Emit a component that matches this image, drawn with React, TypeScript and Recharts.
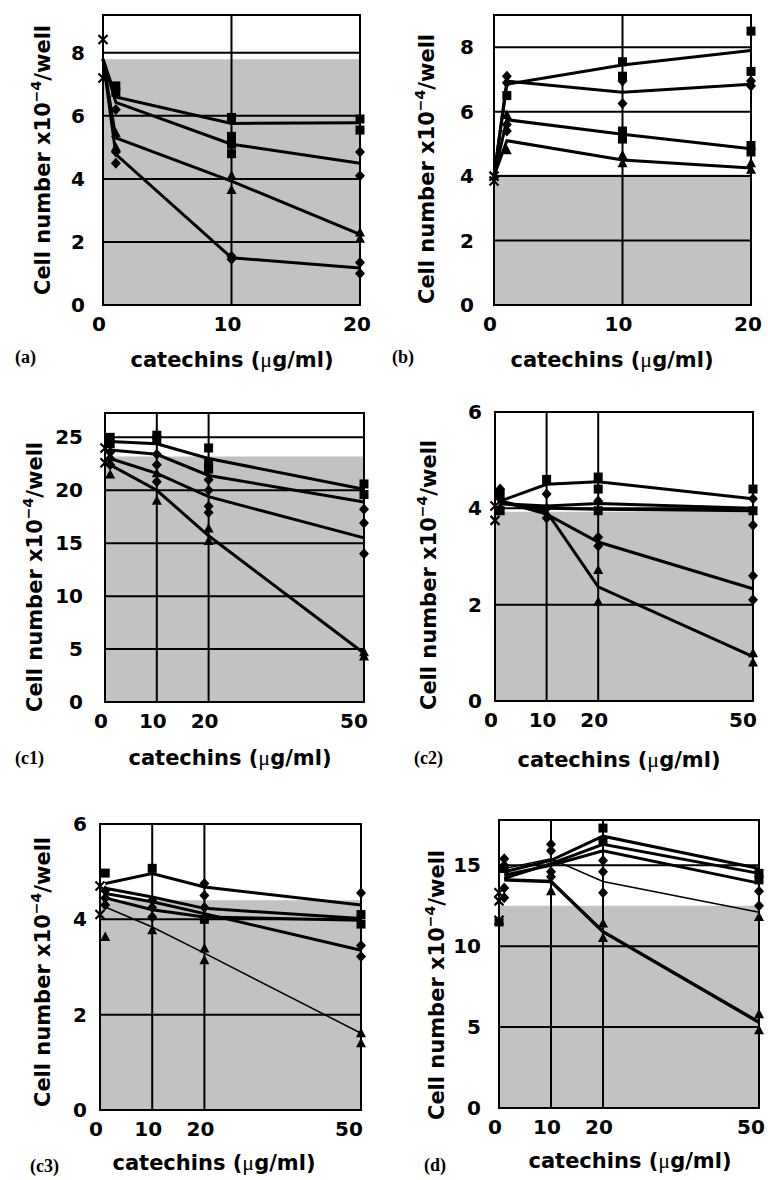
import {
  ComposedChart,
  Label,
  Line,
  ReferenceArea,
  ReferenceLine,
  Scatter,
  XAxis,
  YAxis,
} from "recharts";

const FONT = "'DejaVu Sans', sans-serif";
const SERIF = "'Liberation Serif', 'Times New Roman', serif";
const GRAY = "#c2c2c2";

// catechin doses (ug/ml)
const DOSE_AB = [0, 1, 10, 20];
const DOSE_C = [1, 10, 20, 50];

// (a) mean lines + replicates
const A_LINES = [
  [7.8, 6.6, 5.76, 5.78],
  [7.8, 6.43, 5.1, 4.5],
  [7.8, 5.3, 3.93, 2.24],
  [7.8, 4.78, 1.5, 1.17],
];
const A_X = [[0, 8.42], [0, 7.2]];
const A_SQ = [[1, 6.95], [1, 6.75], [10, 5.95], [10, 5.35], [10, 5.1], [10, 4.8], [20, 5.9], [20, 5.55]];
const A_DI = [[1, 6.2], [1, 4.85], [1, 4.5], [10, 1.55], [10, 1.45], [20, 4.85], [20, 4.1], [20, 1.35], [20, 1.0]];
const A_TR = [[1, 5.45], [1, 5.0], [10, 4.1], [10, 3.65], [20, 2.3], [20, 2.1]];

// (b)
const B_LINES = [
  [4.0, 6.85, 7.45, 7.9],
  [4.0, 6.95, 6.6, 6.85],
  [4.0, 5.75, 5.3, 4.85],
  [4.0, 5.1, 4.5, 4.25],
];
const B_X = [[0, 4.0], [0, 3.85]];
const B_SQ = [[1, 6.5], [10, 7.55], [10, 7.1], [10, 5.4], [10, 5.15], [20, 8.5], [20, 7.25], [20, 4.95], [20, 4.75]];
const B_DI = [[1, 7.1], [1, 6.9], [1, 5.6], [1, 5.4], [10, 6.95], [10, 6.25], [20, 6.95], [20, 6.8]];
const B_TR = [[1, 5.9], [1, 4.8], [10, 4.65], [10, 4.4], [20, 4.4], [20, 4.2]];

// (c1)
const C1_LINES = [
  [24.6, 24.4, 23.0, 20.1],
  [23.8, 23.4, 21.4, 18.9],
  [23.0, 21.6, 19.4, 15.5],
  [22.4, 20.0, 15.7, 4.6],
];
const C1_X = [[0, 24.0], [0, 22.6]];
const C1_SQ = [[1, 25.0], [1, 24.4], [10, 25.2], [10, 24.8], [20, 24.0], [20, 22.6], [20, 22.0], [50, 20.6], [50, 19.6]];
const C1_DI = [[1, 23.6], [1, 23.0], [1, 22.4], [10, 23.4], [10, 22.4], [10, 20.8], [20, 21.0], [20, 20.0], [20, 18.5], [20, 17.9], [50, 18.2], [50, 16.9], [50, 14.0]];
const C1_TR = [[1, 21.5], [10, 21.6], [10, 19.0], [20, 16.4], [20, 15.2], [50, 4.7], [50, 4.3]];

// (c2)
const C2_LINES = [
  [4.15, 4.5, 4.55, 4.2],
  [4.1, 4.05, 4.1, 4.0],
  [4.1, 4.0, 3.98, 3.95],
  [4.15, 3.88, 3.3, 2.33],
  [4.15, 3.93, 2.37, 0.92],
];
const C2_X = [[0, 4.05], [0, 3.75]];
const C2_SQ = [[1, 4.3], [1, 3.95], [10, 4.6], [20, 4.65], [20, 4.4], [20, 3.95], [50, 4.4], [50, 3.95]];
const C2_DI = [[1, 4.4], [1, 4.2], [1, 4.0], [10, 4.3], [10, 4.0], [10, 3.8], [20, 4.15], [20, 3.4], [20, 3.22], [50, 4.2], [50, 3.65], [50, 2.6], [50, 2.1]];
const C2_TR = [[20, 2.72], [20, 2.06], [50, 0.99], [50, 0.8]];

// (c3)
const C3_LINES = [
  [4.75, 4.96, 4.68, 4.3],
  [4.65, 4.47, 4.23, 4.02],
  [4.54, 4.37, 4.12, 3.35],
  [4.45, 4.2, 4.05, 3.98],
  [4.26, 3.84, 3.29, 1.61],
];
const C3_X = [[0, 4.7], [0, 4.1]];
const C3_SQ = [[1, 4.97], [10, 5.07], [20, 4.0], [50, 4.1], [50, 3.9]];
const C3_DI = [[1, 4.6], [1, 4.45], [1, 4.3], [10, 4.4], [10, 4.25], [10, 4.05], [20, 4.75], [20, 4.5], [20, 4.25], [50, 4.55], [50, 3.45], [50, 3.22]];
const C3_TR = [[1, 3.63], [10, 3.77], [20, 3.39], [20, 3.14], [50, 1.61], [50, 1.4]];

// (d)
const D_LINES = [
  [14.6, 15.3, 16.8, 14.8],
  [14.2, 15.1, 16.3, 14.5],
  [14.4, 15.0, 15.9, 13.9],
  [14.8, 15.4, 14.0, 12.1],
  [14.1, 14.0, 10.9, 5.3],
];
const D_X = [[0, 13.3], [0, 12.8], [0, 11.6]];
const D_SQ = [[0, 11.5], [1, 14.8], [20, 17.3], [20, 16.5], [50, 14.5], [50, 14.1]];
const D_DI = [[1, 15.4], [1, 15.0], [1, 13.6], [1, 13.0], [10, 16.3], [10, 15.9], [10, 14.6], [10, 14.3], [20, 15.3], [20, 14.6], [20, 13.3], [50, 13.4], [50, 12.5]];
const D_TR = [[10, 13.4], [20, 11.4], [20, 10.5], [50, 11.8], [50, 5.8], [50, 4.8]];

const toPts = (pairs: number[][]) => pairs.map(([x, y]) => ({ x, y }));
const toLine = (dose: number[], vals: number[]) => dose.map((x, i) => ({ x, y: vals[i] }));

const PANELS = [
  {
    tag: "(a)", box: [103, 15, 360, 305], xMax: 20, yMax: 9.2, xTicks: [0, 10, 20], yTicks: [0, 2, 4, 6, 8],
    shade: 7.8, dose: DOSE_AB, lines: A_LINES, widths: [3, 3, 3, 3],
    x: A_X, sq: A_SQ, di: A_DI, tr: A_TR,
    yTitle: [50, 160], xTitle: [232, 367], tagPos: [15, 362], gap: 18, lastShift: 3,
  },
  {
    tag: "(b)", box: [494, 15, 751, 305], xMax: 20, yMax: 9.0, xTicks: [0, 10, 20], yTicks: [0, 2, 4, 6, 8],
    shade: 4.05, dose: DOSE_AB, lines: B_LINES, widths: [3, 3, 3, 3],
    x: B_X, sq: B_SQ, di: B_DI, tr: B_TR,
    yTitle: [434, 169], xTitle: [612, 367], tagPos: [392, 362], gap: 20, lastShift: 3,
  },
  {
    tag: "(c1)", box: [105, 413, 364, 702], xMax: 50, yMax: 27.3, xTicks: [0, 10, 20, 50], yTicks: [0, 5, 10, 15, 20, 25],
    shade: 23.2, dose: DOSE_C, lines: C1_LINES, widths: [3, 3, 3, 3],
    x: C1_X, sq: C1_SQ, di: C1_DI, tr: C1_TR,
    yTitle: [42, 577], xTitle: [230, 765], tagPos: [15, 763], gap: 22, lastShift: 10,
  },
  {
    tag: "(c2)", box: [495, 412, 753, 701], xMax: 50, yMax: 6, xTicks: [0, 10, 20, 50], yTicks: [0, 2, 4, 6],
    shade: 3.93, dose: DOSE_C, lines: C2_LINES, widths: [3, 3, 3, 3, 3],
    x: C2_X, sq: C2_SQ, di: C2_DI, tr: C2_TR,
    yTitle: [436, 575], xTitle: [619, 767], tagPos: [414, 763], gap: 13, lastShift: 10,
  },
  {
    tag: "(c3)", box: [100, 824, 361, 1110], xMax: 50, yMax: 6, xTicks: [0, 10, 20, 50], yTicks: [0, 2, 4, 6],
    shade: 4.4, dose: DOSE_C, lines: C3_LINES, widths: [3, 3, 3, 3, 1.5],
    x: C3_X, sq: C3_SQ, di: C3_DI, tr: C3_TR,
    yTitle: [50, 972], xTitle: [214, 1170], tagPos: [30, 1171], gap: 13, lastShift: 12,
  },
  {
    tag: "(d)", box: [499, 820, 759, 1108], xMax: 50, yMax: 17.8, xTicks: [0, 10, 20, 50], yTicks: [0, 5, 10, 15],
    shade: 12.5, dose: DOSE_C, lines: D_LINES, widths: [3, 3, 3, 1.5, 3.5],
    x: D_X, sq: D_SQ, di: D_DI, tr: D_TR,
    yTitle: [444, 985], xTitle: [630, 1168], tagPos: [424, 1170], gap: 18, lastShift: 8,
  },
];

const YW = 100;
const MT = 14;
const MR = 20;
const XH = 80;

function Mark({ cx, cy, kind }: { cx?: number; cy?: number; kind: string }) {
  if (cx == null || cy == null) return null;
  if (kind === "sq") return <rect x={cx - 4.5} y={cy - 4.5} width={9} height={9} fill="#000" />;
  if (kind === "di")
    return <polygon points={`${cx},${cy - 5.5} ${cx + 5},${cy} ${cx},${cy + 5.5} ${cx - 5},${cy}`} fill="#000" />;
  if (kind === "tr")
    return <polygon points={`${cx},${cy - 5.5} ${cx + 5},${cy + 4} ${cx - 5},${cy + 4}`} fill="#000" />;
  return (
    <path
      d={`M${cx - 4.5},${cy - 4.5}L${cx + 4.5},${cy + 4.5}M${cx + 4.5},${cy - 4.5}L${cx - 4.5},${cy + 4.5}`}
      stroke="#000"
      strokeWidth={2.2}
    />
  );
}

function Panel({ p }: { p: (typeof PANELS)[number] }) {
  const [l, t, r, b] = p.box;
  const left = l - YW;
  const top = t - MT;
  const w = YW + (r - l) + MR;
  const h = MT + (b - t) + XH;
  const tickFont = { fill: "#000", fontSize: 20, fontWeight: 700, fontFamily: FONT };

  const XTick = (props: any) => {
    const v = props.payload.value;
    const dx = v === p.xMax ? -p.lastShift : -4;
    return (
      <text x={props.x + dx} y={props.y} dy="0.71em" textAnchor="middle" {...tickFont}>
        {v}
      </text>
    );
  };

  const yTitle = () => {
    const x = p.yTitle[0] - left;
    const y = p.yTitle[1] - top;
    return (
      <text
        x={x}
        y={y}
        transform={`rotate(-90 ${x} ${y})`}
        textAnchor="middle"
        fill="#000"
        fontFamily={FONT}
        fontWeight={700}
        fontSize={21}
      >
        Cell number x10
        <tspan dy={-9} fontSize={14}>
          −4
        </tspan>
        <tspan dy={9}>/well</tspan>
      </text>
    );
  };

  const xTitle = () => (
    <text
      x={p.xTitle[0] - left}
      y={p.xTitle[1] - top}
      textAnchor="middle"
      fill="#000"
      fontFamily={FONT}
      fontWeight={700}
      fontSize={21}
    >
      catechins (<tspan fontFamily={SERIF} fontWeight={400} fontSize={22}>μ</tspan>g/ml)
    </text>
  );

  return (
    <>
      <div style={{ position: "absolute", left, top }}>
        <ComposedChart width={w} height={h} margin={{ top: MT, right: MR, bottom: 0, left: 0 }}>
          <XAxis
            type="number"
            dataKey="x"
            domain={[0, p.xMax]}
            ticks={p.xTicks}
            interval={0}
            height={XH}
            axisLine={false}
            tickLine={false}
            tickSize={0}
            tickMargin={12}
            tick={<XTick />}
          >
            <Label content={xTitle} />
          </XAxis>
          <YAxis
            type="number"
            dataKey="y"
            domain={[0, p.yMax]}
            ticks={p.yTicks}
            interval={0}
            width={YW}
            axisLine={false}
            tickLine={false}
            tickSize={0}
            tickMargin={p.gap}
            tick={tickFont}
          >
            <Label content={yTitle} />
          </YAxis>
          <ReferenceArea x1={0} x2={p.xMax} y1={0} y2={p.shade} fill={GRAY} fillOpacity={1} stroke="none" />
          {p.yTicks
            .filter((v) => v > 0 && v < p.yMax)
            .map((v) => (
              <ReferenceLine key={`h${v}`} y={v} stroke="#000" strokeWidth={2} />
            ))}
          {p.xTicks
            .filter((v) => v > 0 && v < p.xMax)
            .map((v) => (
              <ReferenceLine key={`v${v}`} x={v} stroke="#000" strokeWidth={2} />
            ))}
          <ReferenceArea
            x1={0}
            x2={p.xMax}
            y1={0}
            y2={p.yMax}
            fill="none"
            fillOpacity={0}
            stroke="#000"
            strokeWidth={2}
          />
          {p.lines.map((vals, i) => (
            <Line
              key={`l${i}`}
              data={toLine(p.dose, vals)}
              dataKey="y"
              type="linear"
              stroke="#000"
              strokeWidth={p.widths[i]}
              dot={false}
              isAnimationActive={false}
            />
          ))}
          <Scatter data={toPts(p.sq)} dataKey="y" shape={(s: any) => <Mark cx={s.cx} cy={s.cy} kind="sq" />} isAnimationActive={false} />
          <Scatter data={toPts(p.di)} dataKey="y" shape={(s: any) => <Mark cx={s.cx} cy={s.cy} kind="di" />} isAnimationActive={false} />
          <Scatter data={toPts(p.tr)} dataKey="y" shape={(s: any) => <Mark cx={s.cx} cy={s.cy} kind="tr" />} isAnimationActive={false} />
          <Scatter data={toPts(p.x)} dataKey="y" shape={(s: any) => <Mark cx={s.cx} cy={s.cy} kind="x" />} isAnimationActive={false} />
        </ComposedChart>
      </div>
      <div
        style={{
          position: "absolute",
          left: p.tagPos[0],
          top: p.tagPos[1] - 14,
          fontFamily: SERIF,
          fontWeight: 700,
          fontSize: 18,
          lineHeight: "18px",
          color: "#000",
        }}
      >
        {p.tag}
      </div>
    </>
  );
}

export default function App() {
  return (
    <div
      style={{
        position: "absolute",
        left: 0,
        top: 0,
        width: 768,
        height: 1180,
        overflow: "hidden",
        background: "#fff",
      }}
    >
      {PANELS.map((p) => (
        <Panel key={p.tag} p={p} />
      ))}
    </div>
  );
}
